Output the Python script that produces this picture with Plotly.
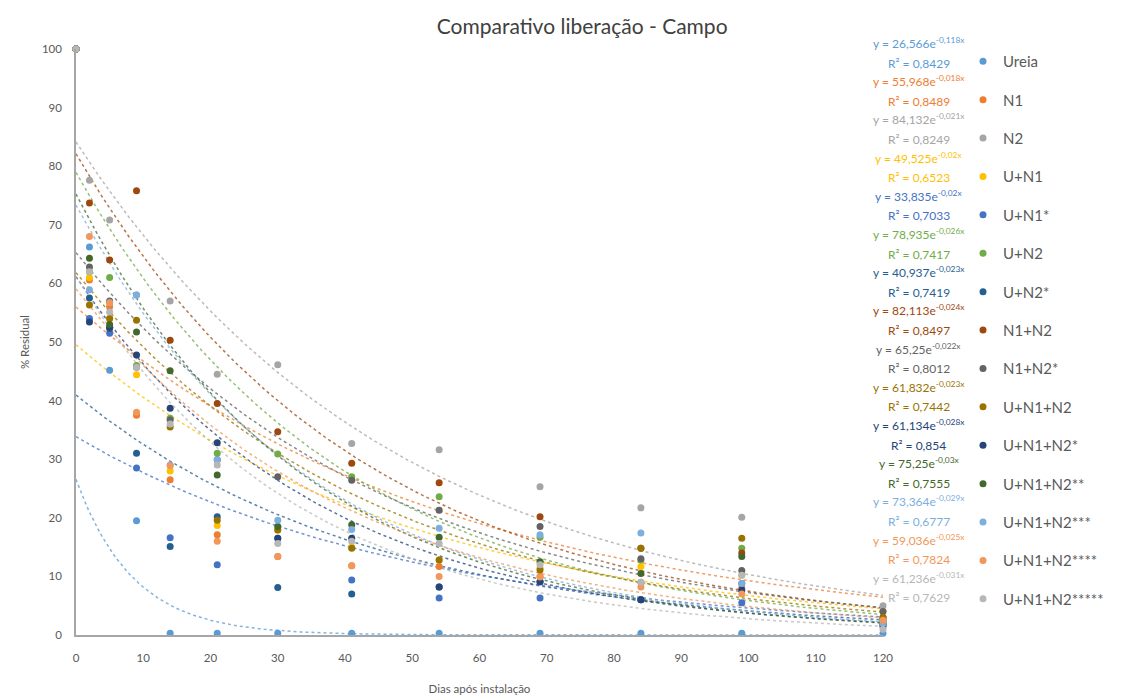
import math
import plotly.graph_objects as go

# Sampling days (dias após instalação)
dias = [0, 2, 5, 9, 14, 21, 30, 41, 54, 69, 84, 99, 120]

# % residual per treatment
ureia = [100, 66.2, 45.2, 19.5, 0.3, 0.3, 0.3, 0.3, 0.3, 0.3, 0.3, 0.3, 0.3]
n1 = [100, 60.6, 56.0, 37.5, 26.5, 17.1, 13.4, 11.8, 11.7, 10.0, 9.0, 8.0, 2.0]
n2 = [100, 77.6, 70.8, 58.0, 57.0, 44.5, 46.1, 32.7, 31.6, 25.3, 21.7, 20.1, 5.0]
u_n1 = [100, 61.0, 54.0, 44.4, 28.0, 18.7, 17.9, 15.0, 12.8, 11.4, 11.7, 10.2, 4.0]
u_n1_s = [100, 54.0, 51.5, 28.5, 16.6, 12.0, 16.5, 9.4, 6.3, 6.3, 6.0, 5.5, 2.5]
u_n2 = [100, 62.0, 61.0, 46.0, 37.0, 31.0, 30.9, 27.0, 23.6, 16.7, 12.8, 14.8, 2.5]
u_n2_s = [100, 57.5, 52.3, 31.0, 15.1, 20.2, 8.1, 7.0, 8.2, 9.1, 6.0, 8.8, 1.8]
n1_n2 = [100, 73.7, 64.0, 75.8, 50.3, 39.5, 34.7, 29.3, 26.0, 20.2, 14.8, 14.0, 3.0]
n1_n2_s = [100, 62.8, 57.0, 45.7, 36.7, 29.9, 27.0, 26.4, 21.3, 18.5, 13.0, 11.0, 4.0]
u_n1_n2 = [100, 56.3, 54.0, 53.7, 35.5, 19.6, 17.9, 14.8, 12.8, 11.1, 14.8, 16.5, 3.0]
u_n1_n2_s1 = [100, 53.4, 52.5, 47.8, 38.7, 32.8, 16.5, 16.5, 8.2, 9.1, 6.0, 7.7, 1.5]
u_n1_n2_s2 = [100, 64.3, 53.0, 51.7, 45.1, 27.3, 18.5, 18.8, 16.7, 12.5, 10.5, 13.4, 2.0]
u_n1_n2_s3 = [100, 58.9, 56.7, 58.0, 29.0, 29.9, 19.6, 18.0, 18.2, 17.1, 17.4, 8.8, 2.0]
u_n1_n2_s4 = [100, 68.0, 56.7, 38.0, 28.9, 16.0, 13.4, 11.8, 10.0, 9.9, 8.2, 7.0, 2.5]
u_n1_n2_s5 = [100, 62.0, 55.1, 45.7, 36.0, 29.0, 15.6, 16.0, 15.6, 12.0, 9.0, 10.2, 1.0]

nomes = ["Ureia", "N1", "N2", "U+N1", "U+N1*", "U+N2", "U+N2*", "N1+N2", "N1+N2*",
         "U+N1+N2", "U+N1+N2*", "U+N1+N2**", "U+N1+N2***", "U+N1+N2****", "U+N1+N2*****"]
valores = [ureia, n1, n2, u_n1, u_n1_s, u_n2, u_n2_s, n1_n2, n1_n2_s, u_n1_n2,
           u_n1_n2_s1, u_n1_n2_s2, u_n1_n2_s3, u_n1_n2_s4, u_n1_n2_s5]

# Exponential trendline coefficients y = a*e^(b*x) and R²
coef_a = [26.566, 55.968, 84.132, 49.525, 33.835, 78.935, 40.937, 82.113, 65.25,
          61.832, 61.134, 75.25, 73.364, 59.036, 61.236]
coef_b = [-0.118, -0.018, -0.021, -0.02, -0.02, -0.026, -0.023, -0.024, -0.022,
          -0.023, -0.028, -0.03, -0.029, -0.025, -0.031]
r2 = [0.8429, 0.8489, 0.8249, 0.6523, 0.7033, 0.7417, 0.7419, 0.8497, 0.8012,
      0.7442, 0.854, 0.7555, 0.6777, 0.7824, 0.7629]

cores = ["#5B9BD5", "#ED7D31", "#A5A5A5", "#FFC000", "#4472C4", "#70AD47", "#255E91",
         "#9E480E", "#636363", "#997300", "#264478", "#43682B", "#7CAFDD", "#F1975A",
         "#B7B7B7"]

FONT = "Lato, 'Open Sans', sans-serif"
x_fit = [i * 0.5 for i in range(0, 241)]


def br(v):
    return str(v).replace(".", ",")


fig = go.Figure()

# Trendlines first, markers on top
for nome, a, b, cor in zip(nomes, coef_a, coef_b, cores):
    fig.add_trace(go.Scatter(
        x=x_fit, y=[a * math.exp(b * x) for x in x_fit], mode="lines",
        line=dict(color=cor, width=1.5, dash="dot"), opacity=0.75,
        showlegend=False, hoverinfo="skip", legendgroup=nome))

for nome, vals, cor in zip(nomes, valores, cores):
    fig.add_trace(go.Scatter(
        x=dias, y=vals, mode="markers", name=nome, legendgroup=nome,
        marker=dict(color=cor, size=7), cliponaxis=False))

# Plot area in pixels: x 76..883, y 49..635
def px_x(p):
    return (p - 76) / 807.0


def px_y(p):
    return (635 - p) / 586.0


annotations = []
for i, (a, b, r, cor) in enumerate(zip(coef_a, coef_b, r2, cores)):
    ly = 62 + 38.2 * i
    annotations.append(dict(
        xref="paper", yref="paper", x=px_x(919), y=px_y(ly - 19),
        text=f"y = {br(a)}e<sup>{br(b)}x</sup>", showarrow=False,
        font=dict(family=FONT, size=12, color=cor), xanchor="center", yanchor="middle"))
    annotations.append(dict(
        xref="paper", yref="paper", x=px_x(919), y=px_y(ly + 1),
        text=f"R² = {br(r)}", showarrow=False,
        font=dict(family=FONT, size=12, color=cor), xanchor="center", yanchor="middle"))

fig.update_layout(
    width=1126, height=695,
    margin=dict(l=76, r=243, t=49, b=60),
    paper_bgcolor="white", plot_bgcolor="white",
    font=dict(family=FONT, color="#595959"),
    title=dict(text="Comparativo liberação - Campo", x=0.517, xanchor="center",
               y=1 - 27 / 695, yanchor="middle",
               font=dict(family=FONT, size=21, color="#404040")),
    xaxis=dict(range=[0, 120], tickvals=list(range(0, 121, 10)), showgrid=False,
               zeroline=False, showline=True, linecolor="#A6A6A6", linewidth=1.5,
               tickfont=dict(size=11.5, color="#595959"), ticks="", ticklabelstandoff=11,
               automargin=False,
               title=dict(text="Dias após instalação", font=dict(size=11.5, color="#595959"),
                          standoff=22)),
    yaxis=dict(range=[0, 100], tickvals=list(range(0, 101, 10)), showgrid=False,
               zeroline=False, showline=True, linecolor="#A6A6A6", linewidth=1.5,
               tickfont=dict(size=11.5, color="#595959"), ticks="", ticklabelstandoff=10,
               automargin=False,
               title=dict(text="% Residual", font=dict(size=11.5, color="#595959"),
                          standoff=10)),
    legend=dict(x=px_x(963), xanchor="left", y=px_y(45), yanchor="top",
                font=dict(family=FONT, size=15, color="#595959"), maxheight=660,
                tracegroupgap=15.9, itemsizing="trace", bgcolor="rgba(0,0,0,0)"),
    annotations=annotations,
)

fig.write_html("out.html")
